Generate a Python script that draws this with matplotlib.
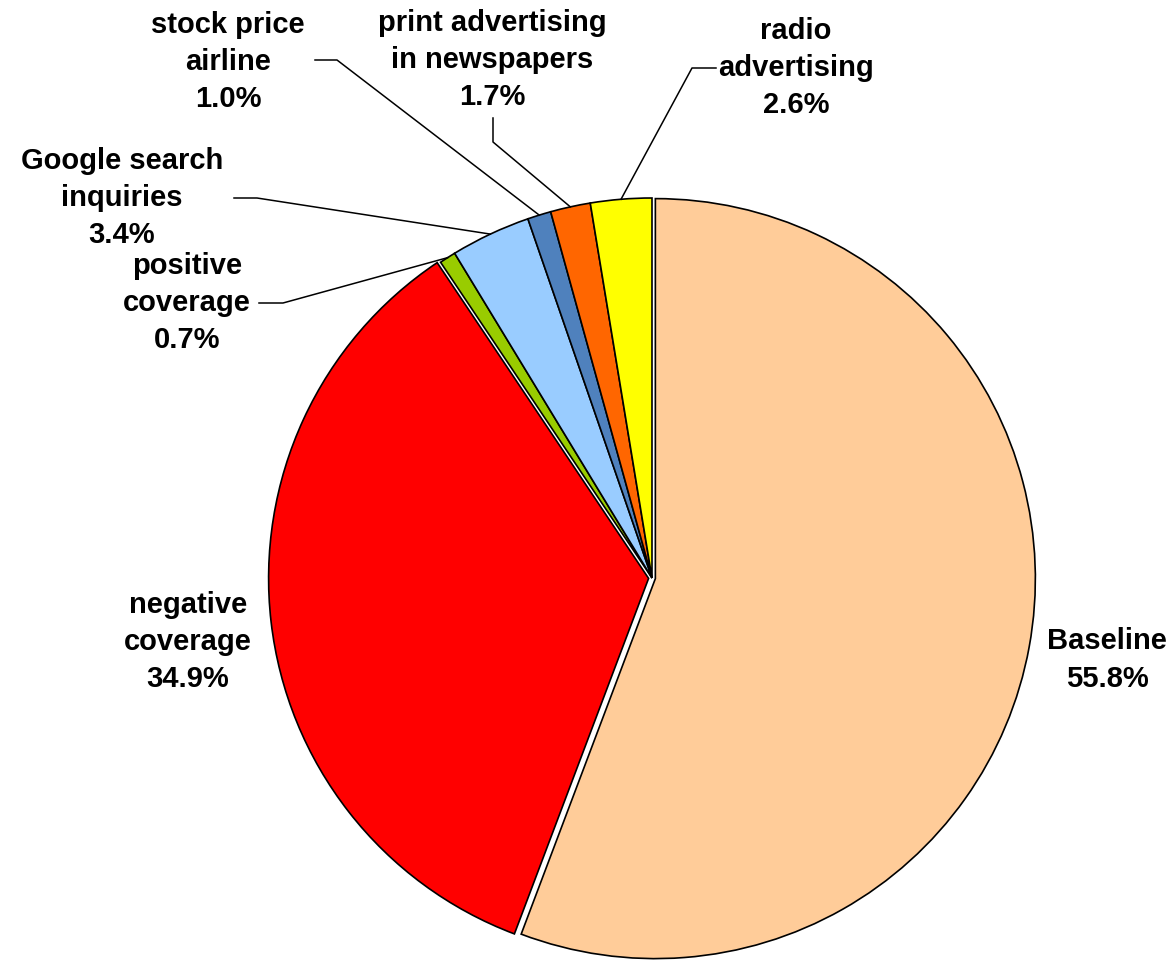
import matplotlib
matplotlib.use('Agg')
import matplotlib.pyplot as plt
import numpy as np

labels = ['Baseline', 'negative\ncoverage', 'positive\ncoverage',
          'Google search\ninquiries', 'stock price\nairline',
          'print advertising\nin newspapers', 'radio\nadvertising']
shares = [55.8, 34.9, 0.7, 3.4, 1.0, 1.7, 2.6]
colors = ['#FFCC99', '#FF0000', '#99CC00', '#99CCFF', '#4F81BD', '#FF6600', '#FFFF00']
explode = [0.009, 0.009, 0, 0, 0, 0, 0]

# pie centre and radius in pixels
CX, CY, R = 652, 578, 380
W, H = 1173, 960


def px(x, y):
    return ((x - CX) / R, (CY - y) / R)


# label centre + leader line points (pixels), leader ends at wedge edge
label_pos = [(1107, 660), (188, 642), (187, 303), (122, 198), (228, 62), (492, 60), (796, 68)]
leaders = [None, None,
           [(259, 303), (283, 303)],
           [(234, 198), (257, 198)],
           [(315, 60), (337, 60)],
           [(493, 118), (493, 142)],
           [(716, 68), (692, 68)]]

fig = plt.figure(figsize=(W / 100, H / 100), dpi=100)
ax = fig.add_axes([0, 0, 1, 1])
wedges, _ = ax.pie(shares, colors=colors, explode=explode, startangle=90,
                   counterclock=False, radius=1.0,
                   wedgeprops=dict(edgecolor='black', linewidth=1.2))
ax.set_xlim(-CX / R, (W - CX) / R)
ax.set_ylim(-(H - CY) / R, CY / R)
ax.set_aspect('auto')
ax.axis('off')

for w, lab, v, pos, lead in zip(wedges, labels, shares, label_pos, leaders):
    tx, ty = px(*pos)
    ax.text(tx, ty, f'{lab}\n{v:.1f}%', ha='center', va='center',
            fontsize=21, fontweight='bold', family='Liberation Sans',
            linespacing=1.42)
    if lead is None:
        continue
    mid = np.deg2rad((w.theta1 + w.theta2) / 2)
    ex = w.center[0] + w.r * np.cos(mid)
    ey = w.center[1] + w.r * np.sin(mid)
    pts = [px(*p) for p in lead] + [(ex, ey)]
    xs, ys = zip(*pts)
    ax.plot(xs, ys, color='black', linewidth=1.1)

fig.savefig('out.png', dpi=100)
